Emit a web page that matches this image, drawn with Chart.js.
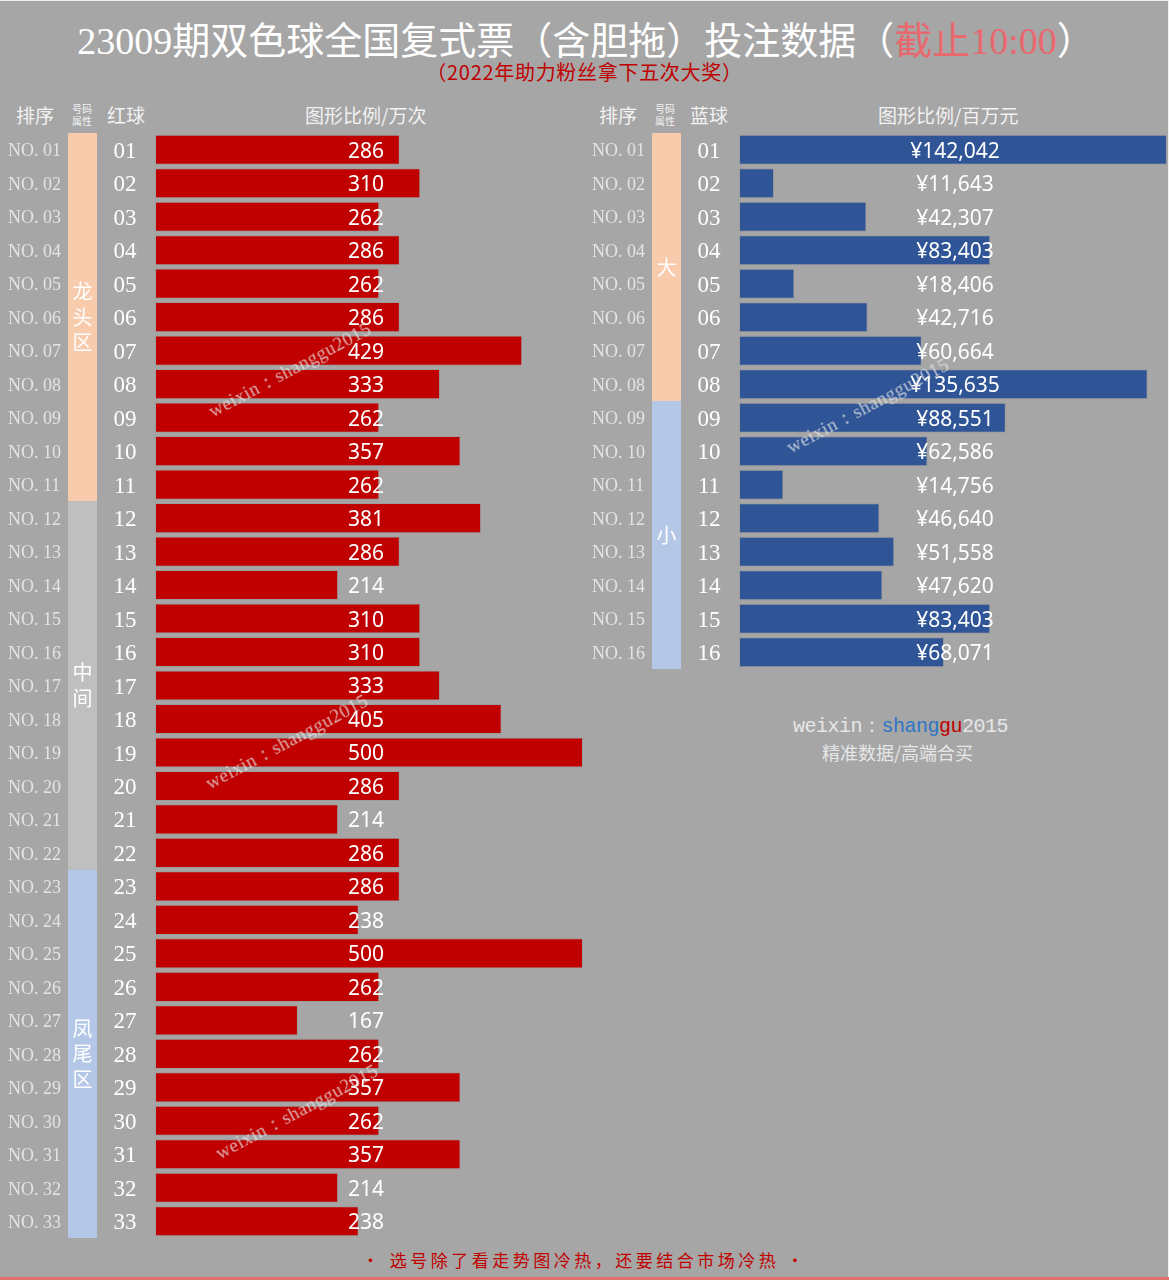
<!DOCTYPE html>
<html>
<head>
<meta charset="utf-8">
<script src="https://cdn.jsdelivr.net/npm/chart.js"></script>
<style>
  html, body { margin: 0; padding: 0; }
  body { width: 1169px; height: 1280px; background: #a6a6a6; position: relative; overflow: hidden;
         font-family: "Noto Sans CJK SC", "Noto Sans", sans-serif; }
  .abs { position: absolute; white-space: nowrap; }
  #title { left: 10px; width: 1152px; top: 13px; text-align: center; color: #fff; font-size: 38px; line-height: 50px;
           font-family: "Liberation Serif", "Noto Sans CJK SC", serif; }
  #title .cn { font-family: "Noto Sans CJK SC", sans-serif; }
  #title .hl { color: #e8686e; }
  #sub { left: 0; width: 1169px; top: 58px; text-align: center; color: #c00000; font-size: 20px; line-height: 28px; letter-spacing: 0.7px; }
  .hd { top: 102px; color: #f2f2f2; font-size: 19px; line-height: 26px; }
  .hd.small { font-size: 10px; line-height: 12px; top: 103px; }
  .wm { color: rgba(230,230,230,0.75); font-size: 19px; font-family: "Liberation Serif", serif; letter-spacing: 0.5px; transform-origin: center center; transform: translate(-50%, -50%) rotate(-28deg); }
  #sign1 { left: 793px; top: 714px; font-size: 20px; line-height: 26px; color: #e6e6e6; font-family: "Liberation Mono", "Liberation Serif", serif; letter-spacing: -0.5px; }
  #sign2 { left: 822px; top: 740px; font-size: 18px; line-height: 24px; color: #e6e6e6; }
  #foot { left: 0; width: 1169px; top: 1247px; text-align: center; color: #c00000; font-size: 17px; letter-spacing: 3.5px; line-height: 26px; }
  #redline { left: 0; top: 1277px; width: 1169px; height: 3px; background: #e07070; }
  #topline { left: 0; top: 0; width: 1169px; height: 1px; background: #f0f0f0; }
  #rightline { left: 1168px; top: 0; width: 1px; height: 1280px; background: #f0f0f0; }
  canvas { position: absolute; }
</style>
</head>
<body>
<div id="topline" class="abs"></div>
<div id="rightline" class="abs"></div>

<div id="title" class="abs">23009<span class="cn">期双色球全国复式票（含胆拖）投注数据（<span class="hl">截止</span></span><span class="hl">10:00</span><span class="cn">）</span></div>
<div id="sub" class="abs">（2022年助力粉丝拿下五次大奖）</div>

<div class="abs hd" style="left:16px">排序</div>
<div class="abs hd small" style="left:72px">号码<br>属性</div>
<div class="abs hd" style="left:107px">红球</div>
<div class="abs hd" style="left:305px">图形比例/万次</div>
<div class="abs hd" style="left:599px">排序</div>
<div class="abs hd small" style="left:655px">号码<br>属性</div>
<div class="abs hd" style="left:690px">蓝球</div>
<div class="abs hd" style="left:878px">图形比例/百万元</div>

<canvas id="redChart" width="590" height="1115" style="left:0;top:128px"></canvas>
<canvas id="blueChart" width="589" height="546" style="left:580px;top:128px"></canvas>

<div class="abs wm" style="left:290px;top:370px">weixin：shanggu2015</div>
<div class="abs wm" style="left:287px;top:742px">weixin：shanggu2015</div>
<div class="abs wm" style="left:297px;top:1112px">weixin：shanggu2015</div>
<div class="abs wm" style="left:868px;top:406px">weixin：shanggu2015</div>

<div id="sign1" class="abs">weixin：<span style="color:#2e75c6">shang</span><span style="color:#c00000">gu</span>2015</div>
<div id="sign2" class="abs">精准数据/高端合买</div>

<div id="foot" class="abs">• 选号除了看走势图冷热，还要结合市场冷热 •</div>
<div id="redline" class="abs"></div>

<script>
// red balls: bet counts (万次)
const redBalls = ["01","02","03","04","05","06","07","08","09","10","11","12","13","14","15","16","17",
                  "18","19","20","21","22","23","24","25","26","27","28","29","30","31","32","33"];
const redValues = [286,310,262,286,262,286,429,333,262,357,262,381,286,214,310,310,333,
                   405,500,286,214,286,286,238,500,262,167,262,357,262,357,214,238];
const redMax = 500;
// zones: name, first index, last index
const redZones = [["龙头区", 0, 10], ["中间", 11, 21], ["凤尾区", 22, 32]];

// blue balls: amount (百万元)
const blueBalls = ["01","02","03","04","05","06","07","08","09","10","11","12","13","14","15","16"];
const blueValues = [142042,11643,42307,83403,18406,42716,60664,135635,88551,62586,14756,46640,51558,47620,83403,68071];
const blueMax = 142042;
const blueZones = [["大", 0, 7], ["小", 8, 15]];

const zoneColors = { "龙头区": "#f8cbad", "中间": "#bfbfbf", "凤尾区": "#b4c7e7", "大": "#f8cbad", "小": "#b4c7e7" };

// draws the rank / zone / number columns and the value labels
const tablePlugin = {
  id: "tableCols",
  beforeDatasetsDraw(chart, args, opts) {
    const ctx = chart.ctx;
    const y = chart.scales.y;
    const half = (y.getPixelForValue(1) - y.getPixelForValue(0)) / 2;
    ctx.save();
    opts.zones.forEach(z => {
      const top = y.getPixelForValue(z[1]) - half;
      const bot = y.getPixelForValue(z[2]) + half;
      ctx.fillStyle = zoneColors[z[0]];
      ctx.fillRect(opts.zoneX, top, opts.zoneW, bot - top);
      const chars = z[0].split("");
      const mid = (top + bot) / 2;
      ctx.fillStyle = "#ffffff";
      ctx.font = '20px "Noto Sans CJK SC"';
      ctx.textAlign = "center";
      ctx.textBaseline = "middle";
      chars.forEach((c, k) => {
        ctx.fillText(c, opts.zoneX + opts.zoneW / 2, mid + (k - (chars.length - 1) / 2) * 25.5);
      });
    });
    chart.data.labels.forEach((lab, i) => {
      const py = y.getPixelForValue(i);
      ctx.textBaseline = "middle";
      ctx.textAlign = "left";
      ctx.fillStyle = "#e4e4e4";
      ctx.font = '18px "Liberation Serif"';
      ctx.fillText("NO. " + lab, opts.rankX, py + 2);
      ctx.fillStyle = "#ffffff";
      ctx.font = '23px "Liberation Serif"';
      ctx.textAlign = "center";
      ctx.fillText(lab, opts.numX, py + 2);
    });
    ctx.restore();
  },
  afterDatasetsDraw(chart, args, opts) {
    const ctx = chart.ctx;
    const meta = chart.getDatasetMeta(0);
    ctx.save();
    ctx.fillStyle = "#ffffff";
    ctx.font = '21px "Noto Sans"';
    ctx.textAlign = "center";
    ctx.textBaseline = "middle";
    meta.data.forEach((bar, i) => {
      ctx.fillText(opts.fmt(chart.data.datasets[0].data[i]), opts.labelX, bar.y + 2);
    });
    ctx.restore();
  }
};

function makeChart(id, labels, values, max, color, pad, cols) {
  return new Chart(document.getElementById(id), {
    type: "bar",
    data: {
      labels: labels,
      datasets: [{
        data: values,
        backgroundColor: color,
        borderColor: "rgba(150,150,150,0.6)",
        borderWidth: 1,
        borderSkipped: false,
        categoryPercentage: 1,
        barPercentage: 0.9
      }]
    },
    options: {
      indexAxis: "y",
      responsive: false,
      animation: false,
      layout: { padding: pad },
      scales: {
        x: { display: false, min: 0, max: max },
        y: { display: false }
      },
      plugins: {
        legend: { display: false },
        tooltip: { enabled: false },
        tableCols: cols
      }
    },
    plugins: [tablePlugin]
  });
}

makeChart("redChart", redBalls, redValues, redMax, "#c00000",
  { left: 155, right: 7, top: 5, bottom: 5 },
  { zones: redZones, rankX: 8, zoneX: 68, zoneW: 29, numX: 125, labelX: 366, fmt: v => String(v) });

makeChart("blueChart", blueBalls, blueValues, blueMax, "#2f5597",
  { left: 159, right: 2, top: 5, bottom: 5 },
  { zones: blueZones, rankX: 12, zoneX: 72, zoneW: 29, numX: 129, labelX: 375,
    fmt: v => "¥" + v.toLocaleString("en-US") });
</script>
</body>
</html>
